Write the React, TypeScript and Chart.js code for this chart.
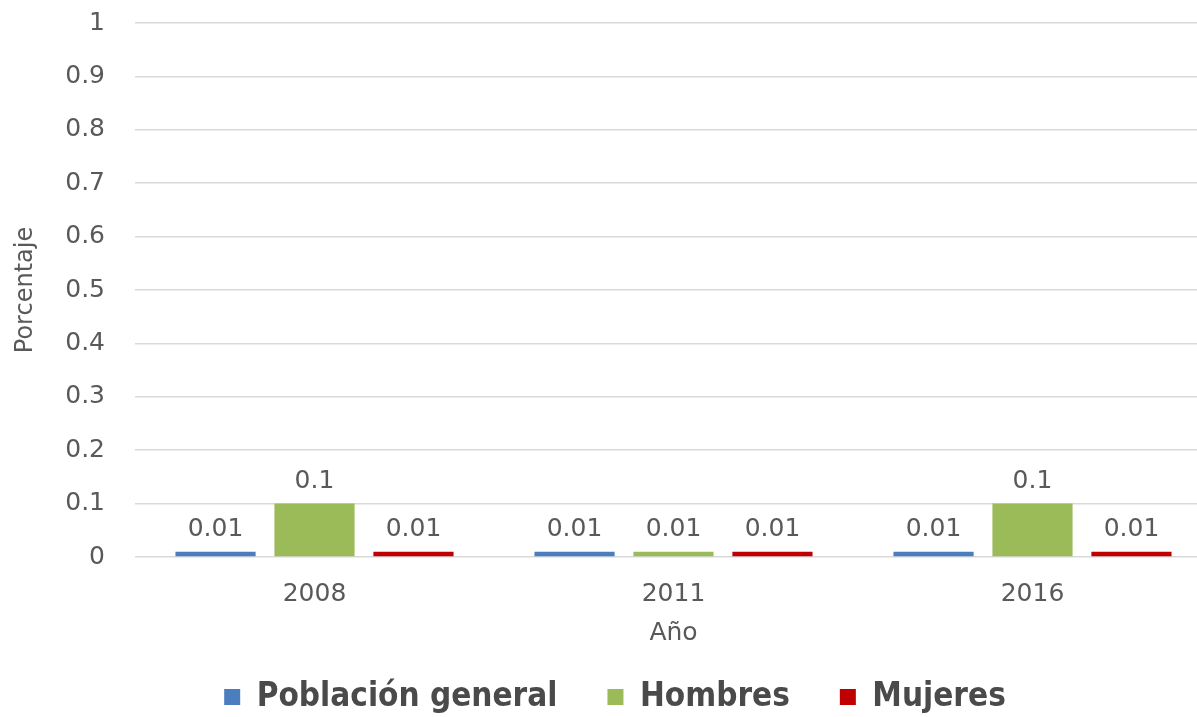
import React, { useEffect, useRef } from "react";
import { Chart, registerables } from "chart.js";

Chart.register(...registerables);

const categories = ["2008", "2011", "2016"];
const poblacionGeneral = [0.01, 0.01, 0.01];
const hombres = [0.1, 0.01, 0.1];
const mujeres = [0.01, 0.01, 0.01];
const seriesNames = ["Población general", "Hombres", "Mujeres"];
const seriesColors = ["#4a7ebf", "#9bbb59", "#c00000"];

const TEXT = "#595959";
const FONT = '"DejaVu Sans", Verdana, sans-serif';
const LEGEND_FONT = '"DejaVu Sans Condensed", "Liberation Sans Narrow", "DejaVu Sans", sans-serif';

const valueLabels = {
  id: "valueLabels",
  afterDatasetsDraw(chart: any) {
    const ctx = chart.ctx;
    ctx.save();
    ctx.font = `25px ${FONT}`;
    ctx.fillStyle = TEXT;
    ctx.textAlign = "center";
    ctx.textBaseline = "bottom";
    chart.data.datasets.forEach((ds: any, i: number) => {
      const meta = chart.getDatasetMeta(i);
      meta.data.forEach((el: any, j: number) => {
        ctx.fillText(String(ds.data[j]), el.x, el.y - 10);
      });
    });
    ctx.restore();
  },
};

export default function App() {
  const ref = useRef<HTMLCanvasElement | null>(null);
  useEffect(() => {
    if (!ref.current) return;
    const data = [poblacionGeneral, hombres, mujeres];
    const chart = new Chart(ref.current, {
      type: "bar",
      data: {
        labels: categories,
        datasets: seriesNames.map((name, i) => ({
          label: name,
          data: data[i],
          backgroundColor: seriesColors[i],
          borderWidth: 0,
          categoryPercentage: 0.827,
          barPercentage: 0.81,
        })),
      },
      options: {
        responsive: false,
        animation: false,
        devicePixelRatio: 1,
        layout: { padding: { top: 23, bottom: -6.5, left: 18, right: 0 } },
        plugins: {
          tooltip: { enabled: false },
          legend: {
            position: "bottom",
            labels: {
              font: { family: LEGEND_FONT, size: 33, weight: "bold" },
              color: "#4a4a4a",
              boxWidth: 16,
              boxHeight: 16,
              padding: 50,
            },
          },
        },
        scales: {
          x: {
            grid: { display: false },
            border: { display: false },
            ticks: { color: TEXT, font: { family: FONT, size: 25 }, padding: 14 },
            title: {
              display: true,
              text: "Año",
              color: TEXT,
              font: { family: FONT, size: 25 },
              padding: { top: 0, bottom: -17.5 },
            },
            afterFit(scale: any) {
              scale.height = 73.5;
            },
          },
          y: {
            min: 0,
            max: 1,
            ticks: {
              stepSize: 0.1,
              color: TEXT,
              font: { family: FONT, size: 25 },
              padding: 0,
              callback: (v: any) => String(Math.round(Number(v) * 10) / 10),
            },
            grid: {
              color: "#d9d9d9",
              lineWidth: 1.5,
              drawTicks: true,
              tickLength: 30,
              tickColor: "rgba(0,0,0,0)",
            },
            border: { display: false },
            title: {
              display: true,
              text: "Porcentaje",
              color: TEXT,
              font: { family: FONT, size: 24 },
              padding: { top: -7, bottom: 0 },
            },
            afterFit(scale: any) {
              scale.width = 117;
            },
          },
        },
      },
      plugins: [valueLabels],
    });
    return () => chart.destroy();
  }, []);
  return (
    <div style={{ position: "fixed", left: 0, top: 0, width: 1197, height: 717, overflow: "hidden", background: "#fff" }}>
      <canvas ref={ref} width={1212} height={717} style={{ width: 1212, height: 717, display: "block" }} />
    </div>
  );
}
